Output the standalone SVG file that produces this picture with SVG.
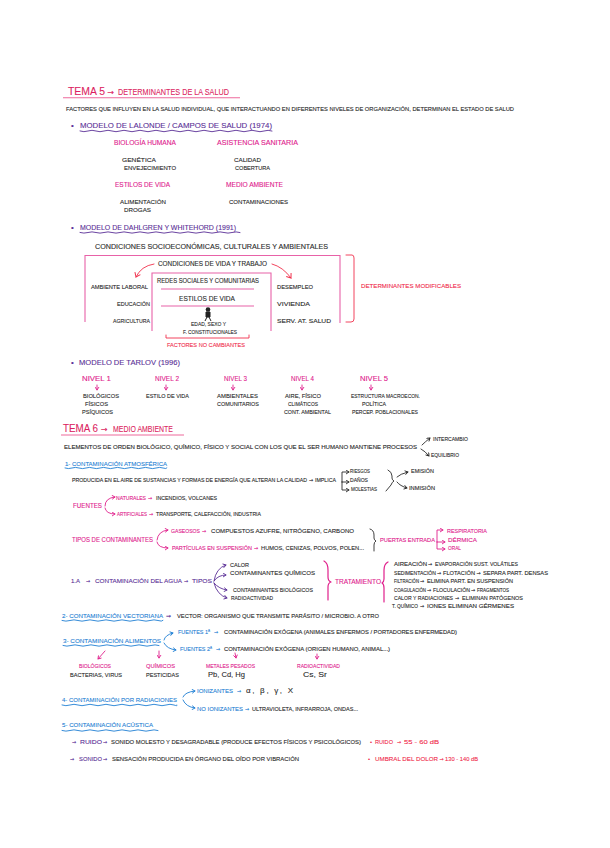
<svg xmlns="http://www.w3.org/2000/svg" width="610" height="848" viewBox="0 0 610 848">
<style>
text{font-family:"Liberation Sans",Arial,sans-serif;font-size:5.5px;fill:#2a2a2a;stroke:#2a2a2a;stroke-width:.1}
.s{font-size:5px}.xs{font-size:4.5px}
.k6{font-size:6.5px}.k7{font-size:8px}
.p{fill:#e0208c;stroke:#e0208c;font-size:6.5px}.p5{fill:#e0208c;stroke:#e0208c;font-size:5.5px}.p4{fill:#e0208c;stroke:#e0208c;font-size:5px}
.pu{fill:#5a2f96;stroke:#5a2f96;font-size:6px}.pu7{fill:#5a2f96;stroke:#5a2f96;font-size:7px}.pu8{fill:#5a2f96;stroke:#5a2f96;font-size:8px}
.b{fill:#1f7fd4;stroke:#1f7fd4;font-size:6px}.r{fill:#f02c4c;stroke:#f02c4c;font-size:6px}
.t{fill:#dc1f62;stroke:#dc1f62;font-size:9px}.tb{font-size:11px}
.a{font-family:"DejaVu Sans",sans-serif;font-size:5px}.al{font-family:"DejaVu Sans",sans-serif;font-size:8px}
.ln{fill:none;stroke-width:.9;stroke-linecap:round;stroke-linejoin:round}
.lp{stroke:#5a2f96}.lb{stroke:#1f7fd4}.lr{stroke:#f0304c}.lk{stroke:#2a2a2a}.lm{stroke:#e0208c}
.box{fill:none;stroke:#e862a8;stroke-width:1.1}
</style>
<defs>
<marker id="ap" markerUnits="userSpaceOnUse" markerWidth="5" markerHeight="5" refX="4" refY="2.5" orient="auto"><path d="M1 .5L4 2.5L1 4.5" fill="none" stroke="#5a2f96" stroke-width=".9"/></marker>
<marker id="ab" markerUnits="userSpaceOnUse" markerWidth="5" markerHeight="5" refX="4" refY="2.5" orient="auto"><path d="M1 .5L4 2.5L1 4.5" fill="none" stroke="#1f7fd4" stroke-width=".9"/></marker>
<marker id="ar" markerUnits="userSpaceOnUse" markerWidth="7" markerHeight="7" refX="5" refY="3.5" orient="auto"><path d="M1 .5L5 3.5L1 6.5" fill="none" stroke="#f0304c" stroke-width="1"/></marker>
<marker id="ak" markerUnits="userSpaceOnUse" markerWidth="5" markerHeight="5" refX="4" refY="2.5" orient="auto"><path d="M1 .5L4 2.5L1 4.5" fill="none" stroke="#2a2a2a" stroke-width=".9"/></marker>
<marker id="am" markerUnits="userSpaceOnUse" markerWidth="5" markerHeight="5" refX="4" refY="2.5" orient="auto"><path d="M1 .5L4 2.5L1 4.5" fill="none" stroke="#e0208c" stroke-width=".9"/></marker>
</defs>
<rect width="610" height="848" fill="#fff"/>

<g id="connectors">
<path d="M63 97.7H240" stroke="#ee6a9c" stroke-width="1.1" fill="none"/>
<path d="M80 131q4 1.4 8 0t8 0t8 0t8 0t8 0t8 0t8 0t8 0t8 0t8 0t8 0t8 0t8 0t8 0t8 0t8 0t8 0t8 0t8 0t8 0t8 0t8 0t8 0t8 0" class="ln lp"/>
<path d="M80 232.5q4 1.2 8 0t8 0t8 0t8 0t8 0t8 0t8 0t8 0t8 0t8 0t8 0t8 0t8 0t8 0t8 0t8 0t8 0t8 0t8 0t8 0" class="ln lp"/>
<path d="M85 322V255.5H340V323" class="box"/>
<path d="M152 331V273H271V331" class="box"/>
<path d="M161 289H254M161 306H254" class="box"/>
<path d="M154 264Q141 266 136 277" class="ln lr" marker-end="url(#ar)"/>
<path d="M272 264Q283 267 291 278" class="ln lr" marker-end="url(#ar)"/>
<path d="M166 335V338H249V335" class="ln lr"/>
<path d="M346 255H352Q354 255 354 258V319Q354 322 351 322H346" class="ln lr"/>
<path d="M97 385V390" class="ln lm" marker-end="url(#am)"/>
<path d="M166 385V390" class="ln lm" marker-end="url(#am)"/>
<path d="M233 385V390" class="ln lm" marker-end="url(#am)"/>
<path d="M302 385V390" class="ln lm" marker-end="url(#am)"/>
<path d="M371 385V390" class="ln lm" marker-end="url(#am)"/>
<path d="M61 435H184" stroke="#ee6a9c" stroke-width="1.1" fill="none"/>
<path d="M422 445Q425 442 430 438" class="ln lk" marker-end="url(#ak)"/>
<path d="M421 449Q425 451 429 456" class="ln lk" marker-end="url(#ak)"/>
<path d="M65 468q3.5 1.2 7 0t7 0t7 0t7 0t7 0t7 0t7 0t7 0t7 0t7 0t7 0t7 0t7 0t7 0t4 0" class="ln lb"/>
<path d="M342 482V472H349" class="ln lk" marker-end="url(#ak)"/>
<path d="M342 482H349" class="ln lk" marker-end="url(#ak)"/>
<path d="M342 482V490H349" class="ln lk" marker-end="url(#ak)"/>
<path d="M388 470Q392 472 392 476V478Q392 480 394 481Q392 482 391 485L386 491" class="ln lk"/>
<path d="M397 477Q400 474 408 472" class="ln lk" marker-end="url(#ak)"/>
<path d="M397 482Q400 486 407 488" class="ln lk" marker-end="url(#ak)"/>
<path d="M105 506Q105 498 115 497" class="ln lm" marker-end="url(#am)"/>
<path d="M105 508Q106 514 115 514" class="ln lm" marker-end="url(#am)"/>
<path d="M157 540Q158 531 168 530" class="ln lm" marker-end="url(#am)"/>
<path d="M157 542Q158 548 168 548" class="ln lm" marker-end="url(#am)"/>
<path d="M370 529Q374 530 374 535V538Q374 540 376 541Q374 542 374 545V551" class="ln lk"/>
<path d="M437 542V530H443" class="ln lm" marker-end="url(#am)"/>
<path d="M437 542H445" class="ln lm" marker-end="url(#am)"/>
<path d="M437 542V549H445" class="ln lm" marker-end="url(#am)"/>
<path d="M214 581Q216 568 226 565" class="ln lp" marker-end="url(#ap)"/>
<path d="M214 581Q218 575 226 575" class="ln lp" marker-end="url(#ap)"/>
<path d="M214 583Q219 589 227 590" class="ln lp" marker-end="url(#ap)"/>
<path d="M214 583Q217 595 227 598" class="ln lp" marker-end="url(#ap)"/>
<path d="M324 561Q328 563 328 570V577Q328 581 331 582Q328 583 328 587V600" class="ln lm" style="stroke-width:1.2"/>
<path d="M388 562Q384 564 384 570V579Q384 582 382 583Q384 584 384 588V602" class="ln lm" style="stroke-width:1.2"/>
<path d="M62 620.5q4 1.3 8 0t8 0t8 0t8 0t8 0t8 0t8 0t8 0t8 0t8 0t8 0t8 0t5 0" class="ln lb"/>
<path d="M63 645.5q4 1.3 8 0t8 0t8 0t8 0t8 0t8 0t8 0t8 0t8 0t8 0t8 0t8 0" class="ln lb"/>
<path d="M164 640Q165 635 173 633" class="ln lb" marker-end="url(#ab)"/>
<path d="M164 643Q167 649 176 650" class="ln lb" marker-end="url(#ab)"/>
<path d="M105 651L98 659" class="ln lm" marker-end="url(#am)"/>
<path d="M159 651L159 658" class="ln lm" marker-end="url(#am)"/>
<path d="M235 653L236 658" class="ln lm" marker-end="url(#am)"/>
<path d="M317 654L317 659" class="ln lm" marker-end="url(#am)"/>
<path d="M62 705q4 1.4 8 0t8 0t8 0t8 0t8 0t8 0t8 0t8 0t8 0t8 0t8 0t8 0t8 0t8 0t3 0" class="ln lb"/>
<path d="M183 697Q185 692 195 691" class="ln lb" marker-end="url(#ab)"/>
<path d="M183 700Q186 707 195 708" class="ln lb" marker-end="url(#ab)"/>
<path d="M62 730.5q4 1.3 8 0t8 0t8 0t8 0t8 0t8 0t8 0t8 0t8 0t8 0t8 0t8 0" class="ln lb"/>
</g>

<g id="tema5">
<text x="68" y="95" class="t tb" textLength="37" lengthAdjust="spacingAndGlyphs">TEMA 5</text>
<text x="107.500" y="95" class="t al">→</text>
<text x="118" y="95" class="t" textLength="111" lengthAdjust="spacingAndGlyphs">DETERMINANTES DE LA SALUD</text>
<text x="66" y="111" class="s" textLength="448" lengthAdjust="spacingAndGlyphs">FACTORES QUE INFLUYEN EN LA SALUD INDIVIDUAL, QUE INTERACTUANDO EN DIFERENTES NIVELES DE ORGANIZACIÓN, DETERMINAN EL ESTADO DE SALUD</text>
</g>

<g id="modelo-lalonde">
<text x="71" y="128" class="pu8">•</text>
<text x="80" y="128" class="pu8" textLength="192" lengthAdjust="spacingAndGlyphs">MODELO DE LALONDE / CAMPOS DE SALUD (1974)</text>
<text x="114" y="145" class="p" textLength="62" lengthAdjust="spacingAndGlyphs">BIOLOGÍA HUMANA</text>
<text x="217" y="145" class="p" textLength="81" lengthAdjust="spacingAndGlyphs">ASISTENCIA SANITARIA</text>
<text x="122" y="162" textLength="34" lengthAdjust="spacingAndGlyphs">GENÉTICA</text>
<text x="124" y="170" textLength="52" lengthAdjust="spacingAndGlyphs">ENVEJECIMIENTO</text>
<text x="234" y="162" textLength="27" lengthAdjust="spacingAndGlyphs">CALIDAD</text>
<text x="235" y="170" textLength="35" lengthAdjust="spacingAndGlyphs">COBERTURA</text>
<text x="115" y="187" class="p" textLength="55" lengthAdjust="spacingAndGlyphs">ESTILOS DE VIDA</text>
<text x="226" y="187" class="p" textLength="57" lengthAdjust="spacingAndGlyphs">MEDIO AMBIENTE</text>
<text x="120" y="204" textLength="46" lengthAdjust="spacingAndGlyphs">ALIMENTACIÓN</text>
<text x="124" y="212" textLength="27" lengthAdjust="spacingAndGlyphs">DROGAS</text>
<text x="229" y="204" textLength="59" lengthAdjust="spacingAndGlyphs">CONTAMINACIONES</text>
</g>

<g id="modelo-dahlgren">
<text x="71" y="230" class="pu8">•</text>
<text x="80" y="230" class="pu7" textLength="156" lengthAdjust="spacingAndGlyphs">MODELO DE DAHLGREN Y WHITEHORD (1991)</text>
<text x="95" y="249" class="k6" textLength="233" lengthAdjust="spacingAndGlyphs">CONDICIONES SOCIOECONÓMICAS, CULTURALES Y AMBIENTALES</text>
<text x="158" y="266" class="k6" textLength="109" lengthAdjust="spacingAndGlyphs">CONDICIONES DE VIDA Y TRABAJO</text>
<text x="157" y="283" class="k6" textLength="102" lengthAdjust="spacingAndGlyphs">REDES SOCIALES Y COMUNITARIAS</text>
<text x="179" y="301" class="k6" textLength="56" lengthAdjust="spacingAndGlyphs">ESTILOS DE VIDA</text>
<g id="figura"><circle cx="208" cy="309.5" r="2.3" fill="#222"/><path d="M206 312H210V317H206ZM207 317L205 321M209 317L211 321" fill="#222" stroke="#222" stroke-width="1"/></g>
<text x="191" y="326" textLength="35" lengthAdjust="spacingAndGlyphs">EDAD, SEXO Y</text>
<text x="183" y="334" textLength="54" lengthAdjust="spacingAndGlyphs">F. CONSTITUCIONALES</text>
<text x="167" y="347" class="r" textLength="78" lengthAdjust="spacingAndGlyphs">FACTORES NO CAMBIANTES</text>
<text x="91" y="289" textLength="57" lengthAdjust="spacingAndGlyphs">AMBIENTE LABORAL</text>
<text x="117" y="306" textLength="33" lengthAdjust="spacingAndGlyphs">EDUCACIÓN</text>
<text x="113" y="323" textLength="37" lengthAdjust="spacingAndGlyphs">AGRICULTURA</text>
<text x="277" y="289" textLength="36" lengthAdjust="spacingAndGlyphs">DESEMPLEO</text>
<text x="277" y="306" textLength="33" lengthAdjust="spacingAndGlyphs">VIVIENDA</text>
<text x="277" y="323" textLength="54" lengthAdjust="spacingAndGlyphs">SERV. AT. SALUD</text>
<text x="361" y="288" class="r" textLength="100" lengthAdjust="spacingAndGlyphs">DETERMINANTES MODIFICABLES</text>
</g>

<g id="modelo-tarlov">
<text x="71" y="365" class="pu8">•</text>
<text x="79" y="365" class="pu7" textLength="101" lengthAdjust="spacingAndGlyphs">MODELO DE TARLOV (1996)</text>
<text x="82" y="381" class="p" textLength="29" lengthAdjust="spacingAndGlyphs">NIVEL 1</text>
<text x="155" y="381" class="p" textLength="24" lengthAdjust="spacingAndGlyphs">NIVEL 2</text>
<text x="224" y="381" class="p" textLength="23" lengthAdjust="spacingAndGlyphs">NIVEL 3</text>
<text x="291" y="381" class="p" textLength="23" lengthAdjust="spacingAndGlyphs">NIVEL 4</text>
<text x="360" y="381" class="p" textLength="28" lengthAdjust="spacingAndGlyphs">NIVEL 5</text>
<text x="83" y="398" textLength="36" lengthAdjust="spacingAndGlyphs">BIOLÓGICOS</text>
<text x="85" y="406" textLength="23" lengthAdjust="spacingAndGlyphs">FÍSICOS</text>
<text x="82" y="414" textLength="31" lengthAdjust="spacingAndGlyphs">PSÍQUICOS</text>
<text x="146" y="398" textLength="43" lengthAdjust="spacingAndGlyphs">ESTILO DE VIDA</text>
<text x="217" y="398" textLength="41" lengthAdjust="spacingAndGlyphs">AMBIENTALES</text>
<text x="217" y="406" textLength="42" lengthAdjust="spacingAndGlyphs">COMUNITARIOS</text>
<text x="285" y="398" textLength="36" lengthAdjust="spacingAndGlyphs">AIRE, FÍSICO</text>
<text x="288" y="406" textLength="30" lengthAdjust="spacingAndGlyphs">CLIMÁTICOS</text>
<text x="284" y="414" textLength="47" lengthAdjust="spacingAndGlyphs">CONT. AMBIENTAL</text>
<text x="351" y="398" textLength="69" lengthAdjust="spacingAndGlyphs">ESTRUCTURA MACROECON.</text>
<text x="362" y="406" textLength="24" lengthAdjust="spacingAndGlyphs">POLÍTICA</text>
<text x="352" y="414" textLength="66" lengthAdjust="spacingAndGlyphs">PERCEP. POBLACIONALES</text>
</g>

<g id="tema6">
<text x="63" y="432" class="t" style="font-size:10.5px" textLength="35" lengthAdjust="spacingAndGlyphs">TEMA 6</text>
<text x="101" y="432" class="t al">→</text>
<text x="113" y="432" class="t" textLength="60" lengthAdjust="spacingAndGlyphs">MEDIO AMBIENTE</text>
<text x="64" y="449" class="s" textLength="353" lengthAdjust="spacingAndGlyphs">ELEMENTOS DE ORDEN BIOLÓGICO, QUÍMICO, FÍSICO Y SOCIAL CON LOS QUE EL SER HUMANO MANTIENE PROCESOS</text>
<text x="433" y="441" class="s" textLength="35" lengthAdjust="spacingAndGlyphs">INTERCAMBIO</text>
<text x="431" y="457" class="s" textLength="28" lengthAdjust="spacingAndGlyphs">EQUILIBRIO</text>
</g>

<g id="atmosferica">
<text x="65" y="466" class="b" textLength="102" lengthAdjust="spacingAndGlyphs">1- CONTAMINACIÓN ATMOSFÉRICA</text>
<text x="72" y="482" class="s" textLength="235" lengthAdjust="spacingAndGlyphs">PRODUCIDA EN EL AIRE DE SUSTANCIAS Y FORMAS DE ENERGÍA QUE ALTERAN LA CALIDAD</text>
<text x="309" y="482" class="a">→</text>
<text x="315" y="482" class="s" textLength="21" lengthAdjust="spacingAndGlyphs">IMPLICA</text>
<text x="350" y="473" class="s" textLength="20" lengthAdjust="spacingAndGlyphs">RIESGOS</text>
<text x="350" y="482" class="s" textLength="18" lengthAdjust="spacingAndGlyphs">DAÑOS</text>
<text x="351" y="491" class="s" textLength="26" lengthAdjust="spacingAndGlyphs">MOLESTIAS</text>
<text x="411" y="473" class="s" textLength="23" lengthAdjust="spacingAndGlyphs">EMISIÓN</text>
<text x="409" y="490" class="s" textLength="26" lengthAdjust="spacingAndGlyphs">INMISIÓN</text>
<text x="73" y="508" class="p" textLength="29" lengthAdjust="spacingAndGlyphs">FUENTES</text>
<text x="116" y="500" class="p4" textLength="30" lengthAdjust="spacingAndGlyphs">NATURALES</text>
<text x="148" y="500" class="p4 a">→</text>
<text x="156" y="500" class="s" textLength="61" lengthAdjust="spacingAndGlyphs">INCENDIOS, VOLCANES</text>
<text x="117" y="516" class="p4" textLength="30" lengthAdjust="spacingAndGlyphs">ARTIFICIALES</text>
<text x="149" y="516" class="p4 a">→</text>
<text x="156" y="516" class="s" textLength="105" lengthAdjust="spacingAndGlyphs">TRANSPORTE, CALEFACCIÓN, INDUSTRIA</text>
<text x="72" y="542" class="p" textLength="81" lengthAdjust="spacingAndGlyphs">TIPOS DE CONTAMINANTES</text>
<text x="171" y="533" class="p4" textLength="29" lengthAdjust="spacingAndGlyphs">GASEOSOS</text>
<text x="202" y="533" class="p4 a">→</text>
<text x="211" y="533" textLength="143" lengthAdjust="spacingAndGlyphs">COMPUESTOS AZUFRE, NITRÓGENO, CARBONO</text>
<text x="172" y="550" class="p4" textLength="80" lengthAdjust="spacingAndGlyphs">PARTÍCULAS EN SUSPENSIÓN</text>
<text x="254" y="550" class="p4 a">→</text>
<text x="261" y="550" textLength="103" lengthAdjust="spacingAndGlyphs">HUMOS, CENIZAS, POLVOS, POLEN...</text>
<text x="380" y="542" class="p5" textLength="55" lengthAdjust="spacingAndGlyphs">PUERTAS ENTRADA</text>
<text x="447" y="533" class="p5" textLength="40" lengthAdjust="spacingAndGlyphs">RESPIRATORIA</text>
<text x="448" y="542" class="p5" textLength="29" lengthAdjust="spacingAndGlyphs">DÉRMICA</text>
<text x="448" y="550" class="p5" textLength="13" lengthAdjust="spacingAndGlyphs">ORAL</text>
</g>

<g id="agua">
<text x="71" y="583" class="pu">1.A</text>
<text x="86" y="583" class="pu a">→</text>
<text x="95" y="583" class="pu" textLength="87" lengthAdjust="spacingAndGlyphs">CONTAMINACIÓN DEL AGUA</text>
<text x="184" y="583" class="pu a">→</text>
<text x="192" y="583" class="pu" textLength="20" lengthAdjust="spacingAndGlyphs">TIPOS</text>
<text x="230" y="567" textLength="19" lengthAdjust="spacingAndGlyphs">CALOR</text>
<text x="230" y="575" textLength="85" lengthAdjust="spacingAndGlyphs">CONTAMINANTES QUÍMICOS</text>
<text x="233" y="592" textLength="80" lengthAdjust="spacingAndGlyphs">CONTAMINANTES BIOLÓGICOS</text>
<text x="231" y="600" textLength="42" lengthAdjust="spacingAndGlyphs">RADIOACTIVIDAD</text>
<text x="335" y="584" class="p" textLength="46" lengthAdjust="spacingAndGlyphs">TRATAMIENTO</text>
<text x="394" y="566" class="s" textLength="33" lengthAdjust="spacingAndGlyphs">AIREACIÓN</text>
<text x="428" y="566" class="a">→</text>
<text x="435" y="566" class="s" textLength="83" lengthAdjust="spacingAndGlyphs">EVAPORACIÓN SUST. VOLÁTILES</text>
<text x="394" y="575" class="s" textLength="42" lengthAdjust="spacingAndGlyphs">SEDIMENTACIÓN</text>
<text x="437" y="575" class="a">→</text>
<text x="443" y="575" class="s" textLength="32" lengthAdjust="spacingAndGlyphs">FLOTACIÓN</text>
<text x="476.500" y="575" class="a">→</text>
<text x="483" y="575" class="s" textLength="65" lengthAdjust="spacingAndGlyphs">SEPARA PART. DENSAS</text>
<text x="394" y="583" class="xs" textLength="25" lengthAdjust="spacingAndGlyphs">FILTRACIÓN</text>
<text x="420" y="583" class="a">→</text>
<text x="427" y="583" class="s" textLength="86" lengthAdjust="spacingAndGlyphs">ELIMINA PART. EN SUSPENSIÓN</text>
<text x="394" y="592" class="xs" textLength="32" lengthAdjust="spacingAndGlyphs">COAGULACIÓN</text>
<text x="427" y="592" class="a">→</text>
<text x="433" y="592" class="xs" textLength="37" lengthAdjust="spacingAndGlyphs">FLOCULACIÓN</text>
<text x="471" y="592" class="a">→</text>
<text x="477" y="592" class="xs" textLength="32" lengthAdjust="spacingAndGlyphs">FRAGMENTOS</text>
<text x="394" y="600" class="s" textLength="59" lengthAdjust="spacingAndGlyphs">CALOR Y RADIACIONES</text>
<text x="455" y="600" class="a">→</text>
<text x="462" y="600" class="s" textLength="61" lengthAdjust="spacingAndGlyphs">ELIMINAN PATÓGENOS</text>
<text x="392" y="608" class="s" textLength="26" lengthAdjust="spacingAndGlyphs">T. QUÍMICO</text>
<text x="420" y="608" class="a">→</text>
<text x="427" y="608" class="s" textLength="87" lengthAdjust="spacingAndGlyphs">IONES ELIMINAN GÉRMENES</text>
</g>

<g id="vectoriana">
<text x="62" y="618" class="b" textLength="101" lengthAdjust="spacingAndGlyphs">2- CONTAMINACIÓN VECTORIANA</text>
<text x="166" y="618" class="pu a" style="font-size:6px">→</text>
<text x="177" y="618" textLength="202" lengthAdjust="spacingAndGlyphs">VECTOR: ORGANISMO QUE TRANSMITE PARÁSITO / MICROBIO. A OTRO</text>
</g>

<g id="alimentos">
<text x="63" y="643" class="b" textLength="98" lengthAdjust="spacingAndGlyphs">3- CONTAMINACIÓN ALIMENTOS</text>
<text x="178" y="634" class="b" textLength="32" lengthAdjust="spacingAndGlyphs">FUENTES 1ª</text>
<text x="214" y="634" class="b a">→</text>
<text x="224" y="634" class="s" textLength="233" lengthAdjust="spacingAndGlyphs">CONTAMINACIÓN EXÓGENA (ANIMALES ENFERMOS / PORTADORES ENFERMEDAD)</text>
<text x="180" y="651" class="b" textLength="32" lengthAdjust="spacingAndGlyphs">FUENTES 2ª</text>
<text x="216" y="651" class="b a">→</text>
<text x="224" y="651" class="s" textLength="166" lengthAdjust="spacingAndGlyphs">CONTAMINACIÓN EXÓGENA (ORIGEN HUMANO, ANIMAL...)</text>
<text x="79" y="668" class="p5" textLength="32" lengthAdjust="spacingAndGlyphs">BIOLÓGICOS</text>
<text x="146" y="668" class="p5" textLength="29" lengthAdjust="spacingAndGlyphs">QUÍMICOS</text>
<text x="206" y="668" class="p5" textLength="49" lengthAdjust="spacingAndGlyphs">METALES PESADOS</text>
<text x="297" y="668" class="p5" textLength="43" lengthAdjust="spacingAndGlyphs">RADIOACTIVIDAD</text>
<text x="70" y="677" textLength="52" lengthAdjust="spacingAndGlyphs">BACTERIAS, VIRUS</text>
<text x="146" y="677" textLength="33" lengthAdjust="spacingAndGlyphs">PESTICIDAS</text>
<text x="208" y="677" class="k7" textLength="37" lengthAdjust="spacingAndGlyphs">Pb, Cd, Hg</text>
<text x="303" y="677" class="k7" textLength="24" lengthAdjust="spacingAndGlyphs">Cs, Sr</text>
</g>

<g id="radiaciones">
<text x="62" y="702" class="b" textLength="115" lengthAdjust="spacingAndGlyphs">4- CONTAMINACIÓN POR RADIACIONES</text>
<text x="197" y="693" class="b" textLength="36" lengthAdjust="spacingAndGlyphs">IONIZANTES</text>
<text x="237" y="693" class="b a">→</text>
<text x="246" y="693" class="k7" textLength="47" lengthAdjust="spacing">α, β, γ, X</text>
<text x="197" y="711" class="b" textLength="46" lengthAdjust="spacingAndGlyphs">NO IONIZANTES</text>
<text x="245" y="711" class="b a">→</text>
<text x="252" y="711" textLength="106" lengthAdjust="spacingAndGlyphs">ULTRAVIOLETA, INFRARROJA, ONDAS...</text>
</g>

<g id="acustica">
<text x="62" y="727" class="b" textLength="91" lengthAdjust="spacingAndGlyphs">5- CONTAMINACIÓN ACÚSTICA</text>
<text x="72" y="744" class="pu a">→</text>
<text x="80" y="744" class="pu" textLength="22" lengthAdjust="spacingAndGlyphs">RUIDO</text>
<text x="103" y="744" class="pu a">→</text>
<text x="111" y="744" textLength="250" lengthAdjust="spacingAndGlyphs">SONIDO MOLESTO Y DESAGRADABLE (PRODUCE EFECTOS FÍSICOS Y PSICOLÓGICOS)</text>
<text x="370" y="744" class="r">•</text>
<text x="375" y="744" class="r" textLength="18" lengthAdjust="spacingAndGlyphs">RUIDO</text>
<text x="397" y="744" class="r a">→</text>
<text x="404" y="744" class="r" textLength="35" lengthAdjust="spacingAndGlyphs">55 - 60 dB</text>
<text x="70" y="761" class="pu a">→</text>
<text x="79" y="761" class="pu" textLength="23" lengthAdjust="spacingAndGlyphs">SONIDO</text>
<text x="103" y="761" class="pu a">→</text>
<text x="112" y="761" textLength="187" lengthAdjust="spacingAndGlyphs">SENSACIÓN PRODUCIDA EN ÓRGANO DEL OÍDO POR VIBRACIÓN</text>
<text x="368" y="761" class="r">•</text>
<text x="375" y="761" class="r" textLength="63" lengthAdjust="spacingAndGlyphs">UMBRAL DEL DOLOR</text>
<text x="439.500" y="761" class="r a">→</text>
<text x="445" y="761" class="r" textLength="33" lengthAdjust="spacingAndGlyphs">130 - 140 dB</text>
</g>
</svg>
